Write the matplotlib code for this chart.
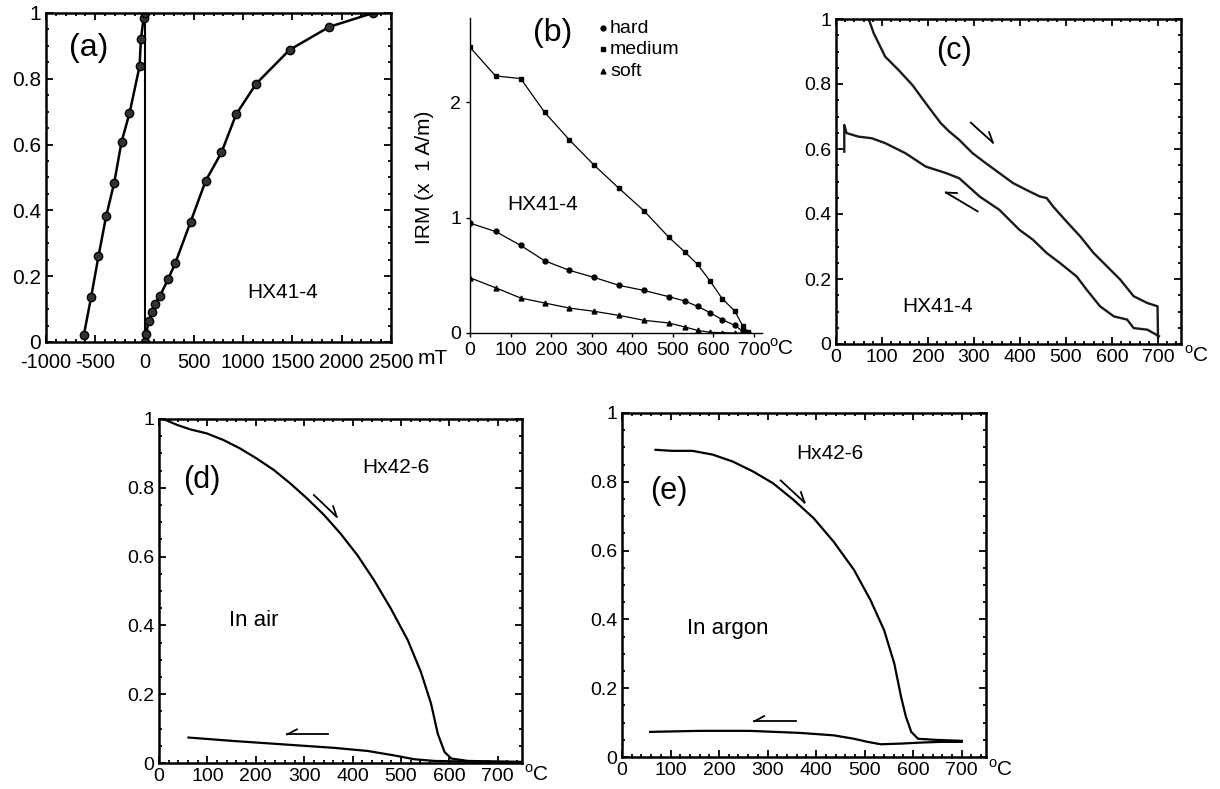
import numpy as np
import matplotlib.pyplot as plt
from matplotlib.ticker import MultipleLocator

plt.rcParams['font.family'] = ['Liberation Sans', 'DejaVu Sans']
plt.rcParams['mathtext.fontset'] = 'custom'
plt.rcParams['mathtext.rm'] = 'Liberation Sans'
plt.rcParams['axes.unicode_minus'] = False

# (a) IRM acquisition / backfield, HX41-4
a_neg_field = [-617, -542, -468, -390, -308, -234, -153, -51, -37, -10, 0]
a_neg_irm = [0.02, 0.137, 0.26, 0.382, 0.484, 0.608, 0.695, 0.838, 0.92, 0.985, 1.0]
a_pos_field = [0, 17, 40, 78, 105, 156, 237, 312, 468, 620, 780, 929, 1132, 1471, 1875, 2319]
a_pos_irm = [0, 0.023, 0.064, 0.09, 0.115, 0.14, 0.19, 0.24, 0.366, 0.49, 0.576, 0.692,
             0.785, 0.888, 0.958, 1.0]

# (b) thermal demagnetisation of three-axis IRM
b_temp = [0, 63, 125, 184, 245, 306, 367, 429, 490, 530, 561, 592, 622, 653, 673, 686]
b_hard = [0.952, 0.880, 0.759, 0.626, 0.543, 0.482, 0.413, 0.369, 0.315, 0.277, 0.231,
          0.176, 0.115, 0.066, 0.014, 0.003]
b_medium = [2.476, 2.228, 2.205, 1.913, 1.674, 1.455, 1.255, 1.059, 0.831, 0.701, 0.595,
            0.450, 0.297, 0.190, 0.058, 0.01]
b_soft = [0.479, 0.392, 0.303, 0.260, 0.216, 0.188, 0.153, 0.110, 0.087, 0.052, 0.023,
          0.006, 0.003, 0.0, 0.0, 0.0]

# (c) thermomagnetic curve HX41-4
c_heat_t = [71, 82, 107, 136, 166, 195, 228, 246, 268, 297, 326, 355, 385, 414, 443, 458,
            472, 501, 531, 560, 589, 618, 647, 677, 699, 700]
c_heat_m = [1.0, 0.956, 0.884, 0.843, 0.797, 0.741, 0.679, 0.654, 0.628, 0.587, 0.556, 0.526,
            0.495, 0.474, 0.454, 0.449, 0.423, 0.377, 0.331, 0.280, 0.239, 0.198, 0.147,
            0.126, 0.116, 0.02]
c_cool_t = [702, 677, 647, 633, 604, 574, 545, 523, 487, 458, 428, 399, 355, 312, 268, 239,
            195, 151, 107, 78, 49, 23, 18, 18]
c_cool_m = [0.024, 0.044, 0.049, 0.075, 0.085, 0.116, 0.167, 0.208, 0.249, 0.280, 0.321,
            0.351, 0.413, 0.454, 0.510, 0.526, 0.546, 0.587, 0.618, 0.633, 0.638, 0.649,
            0.674, 0.592]

# (d) Hx42-6 in air
d_heat_t = [9, 37, 64, 99, 133, 168, 202, 237, 271, 306, 341, 375, 410, 444, 479, 514, 541,
            562, 576, 590, 604, 638, 749]
d_heat_m = [1.0, 0.983, 0.970, 0.958, 0.939, 0.914, 0.885, 0.852, 0.813, 0.769, 0.721, 0.667,
            0.604, 0.532, 0.449, 0.357, 0.265, 0.173, 0.085, 0.032, 0.013, 0.006, 0.003]
d_cool_t = [61, 154, 258, 362, 431, 486, 527, 569, 638, 749]
d_cool_m = [0.074, 0.064, 0.054, 0.044, 0.035, 0.022, 0.011, 0.006, 0.004, 0.003]

# (e) Hx42-6 in argon
e_heat_t = [69, 103, 145, 187, 228, 270, 311, 353, 395, 436, 478, 512, 540, 561, 575, 585,
            596, 610, 644, 700]
e_heat_m = [0.893, 0.890, 0.890, 0.879, 0.859, 0.830, 0.796, 0.748, 0.694, 0.626, 0.544,
            0.456, 0.369, 0.272, 0.175, 0.117, 0.073, 0.053, 0.050, 0.047]
e_cool_t = [58, 159, 263, 367, 436, 478, 506, 533, 575, 617, 658, 700]
e_cool_m = [0.073, 0.076, 0.076, 0.070, 0.063, 0.053, 0.044, 0.037, 0.039, 0.042, 0.044, 0.044]

# arrows (tail, head) in data units
c_arrows = [((293, 0.681), (341, 0.620)), ((308, 0.408), (239, 0.466))]
d_arrows = [((320, 0.779), (367, 0.716)), ((349, 0.083), (265, 0.083))]
e_arrows = [((327, 0.804), (376, 0.740)), ((359, 0.104), (273, 0.104))]

W, H = 1220, 789
fig = plt.figure(figsize=(W / 100, H / 100), dpi=100)


def box(left, top, right, bottom):
    return [left / W, 1 - bottom / H, (right - left) / W, (bottom - top) / H]


def boxed(ax, xmaj, xmin, fs):
    ax.yaxis.set_major_locator(MultipleLocator(0.2))
    ax.yaxis.set_minor_locator(MultipleLocator(0.05))
    ax.xaxis.set_major_locator(MultipleLocator(xmaj))
    ax.xaxis.set_minor_locator(MultipleLocator(xmin))
    ax.tick_params(which='both', direction='in', top=True, right=True, labelsize=fs, width=1.3)
    ax.tick_params(which='major', length=5)
    ax.tick_params(which='minor', length=2.5)
    for s in ax.spines.values():
        s.set_linewidth(1.8)
    ax.yaxis.set_major_formatter(plt.FuncFormatter(lambda v, p: '%g' % round(v, 2)))


def half_arrow(ax, tail, head):
    ax.plot([tail[0], head[0]], [tail[1], head[1]], color='black', lw=1.3)
    t = ax.transData
    p0 = t.transform(tail)
    p1 = t.transform(head)
    d = (p0 - p1) / np.hypot(*(p0 - p1)) * 11
    best = None
    for ang in (np.radians(28), -np.radians(28)):
        r = np.array([[np.cos(ang), -np.sin(ang)], [np.sin(ang), np.cos(ang)]])
        q = p1 + r @ d
        if best is None or q[1] > best[1]:
            best = q
    q = t.inverted().transform(best)
    ax.plot([head[0], q[0]], [head[1], q[1]], color='black', lw=1.3)


def deg_c(x, y):
    fig.text(x / W, 1 - y / H, r'$^{\mathrm{o}}$C', fontsize=15, ha='left', va='center')


# ---- (a)
ax = fig.add_axes(box(46, 13, 391, 342))
ax.plot([0, 0], [0, 1], color='black', lw=1.5)
ax.plot(a_neg_field, a_neg_irm, '-o', color='black', lw=1.8, ms=6, mfc='#333333', mec='black')
ax.plot(a_pos_field, a_pos_irm, '-o', color='black', lw=1.8, ms=6, mfc='#333333', mec='black')
ax.set_xlim(-1000, 2500)
ax.set_ylim(0, 1)
boxed(ax, 500, 100, 15)
ax.tick_params(axis='x', labelsize=14.5, pad=8)
ax.text(-569, 0.894, '(a)', fontsize=23, ha='center', va='center')
ax.text(1402, 0.149, 'HX41-4', fontsize=15, ha='center', va='center')
fig.text(433 / W, 1 - 358 / H, 'mT', fontsize=15, ha='center', va='center')

# ---- (b)
ax = fig.add_axes(box(470, 18, 762, 333))
ax.plot(b_temp, b_medium, '-s', color='black', lw=0.9, ms=3.5)
ax.plot(b_temp, b_hard, '-o', color='black', lw=0.9, ms=3.5)
ax.plot(b_temp, b_soft, '-^', color='black', lw=0.9, ms=3.5)
ax.set_xlim(0, 720)
ax.set_ylim(0, 2.73)
ax.spines['top'].set_visible(False)
ax.spines['right'].set_visible(False)
ax.spines['left'].set_linewidth(1.0)
ax.spines['bottom'].set_linewidth(1.0)
ax.set_xticks(range(0, 701, 100))
ax.set_yticks([0, 1, 2])
ax.tick_params(direction='out', length=3, width=1, labelsize=14)
ax.text(204, 2.6, '(b)', fontsize=23, ha='center', va='center')
ax.text(178, 1.117, 'HX41-4', fontsize=15, ha='center', va='center')
ax.text(-111, 1.35, 'IRM (x  1 A/m)', fontsize=15, rotation=90, ha='center', va='center',
        clip_on=False)
leg_labels = ['hard', 'medium', 'soft']
leg_markers = ['o', 's', '^']
leg_y = [2.64, 2.46, 2.27]
for lab, mk, yy in zip(leg_labels, leg_markers, leg_y):
    ax.plot([328], [yy], mk, color='black', ms=3.5, clip_on=False)
    ax.text(345, yy, lab, fontsize=14, ha='left', va='center')
deg_c(769, 348)

# ---- (c)
ax = fig.add_axes(box(836, 19, 1181, 344))
ax.plot(c_heat_t, c_heat_m, color='#1a1a1a', lw=1.7)
ax.plot(c_cool_t, c_cool_m, color='#1a1a1a', lw=1.7)
ax.set_xlim(0, 750)
ax.set_ylim(0, 1)
boxed(ax, 100, 20, 14)
for tail, head in c_arrows:
    half_arrow(ax, tail, head)
ax.text(257, 0.9, '(c)', fontsize=22, ha='center', va='center')
ax.text(220, 0.116, 'HX41-4', fontsize=15, ha='center', va='center')
deg_c(1184, 355)

# ---- (d)
ax = fig.add_axes(box(159, 419, 522, 763))
ax.plot(d_heat_t, d_heat_m, color='black', lw=1.6)
ax.plot(d_cool_t, d_cool_m, color='black', lw=1.6)
ax.set_xlim(0, 750)
ax.set_ylim(0, 1)
boxed(ax, 100, 20, 14)
for tail, head in d_arrows:
    half_arrow(ax, tail, head)
ax.text(88, 0.822, '(d)', fontsize=22, ha='center', va='center')
ax.text(490, 0.86, 'Hx42-6', fontsize=15, ha='center', va='center')
ax.text(196, 0.415, 'In air', fontsize=16, ha='center', va='center')
deg_c(524, 774)

# ---- (e)
ax = fig.add_axes(box(622, 413, 986, 757))
ax.plot(e_heat_t, e_heat_m, color='black', lw=1.6)
ax.plot(e_cool_t, e_cool_m, color='black', lw=1.6)
ax.set_xlim(0, 750)
ax.set_ylim(0, 1)
boxed(ax, 100, 20, 14)
for tail, head in e_arrows:
    half_arrow(ax, tail, head)
ax.text(96, 0.772, '(e)', fontsize=22, ha='center', va='center')
ax.text(429, 0.883, 'Hx42-6', fontsize=15, ha='center', va='center')
ax.text(218, 0.374, 'In argon', fontsize=16, ha='center', va='center')
deg_c(988, 769)

fig.savefig('out.png', dpi=100)
